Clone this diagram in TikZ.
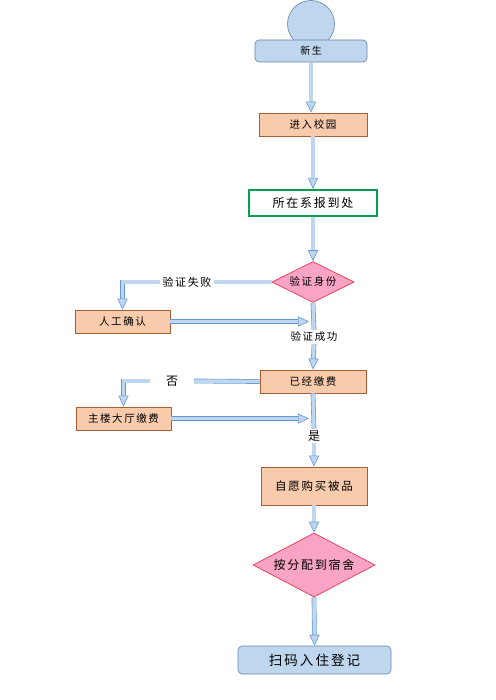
\documentclass[tikz,border=0pt]{standalone}
\usepackage{fontspec}
\newfontfamily\cjk[LetterSpace=15]{Noto Sans CJK SC}
\usetikzlibrary{shapes.geometric,arrows.meta,positioning}
\definecolor{boxblue}{RGB}{190, 215, 238}
\definecolor{boxblueline}{RGB}{100, 130, 170}
\definecolor{boxorange}{RGB}{248, 203, 173}
\definecolor{boxorangeline}{RGB}{170, 95, 55}
\definecolor{boxgreen}{RGB}{0, 160, 80}
\definecolor{diapink}{RGB}{249, 163, 197}
\definecolor{diared}{RGB}{240, 40, 60}
\definecolor{arrowfill}{RGB}{190, 215, 238}
\definecolor{arrowline}{RGB}{100, 150, 210}

\begin{document}
\begin{tikzpicture}[x=1pt, y=-1pt,
    every node/.style={font=\cjk\fontsize{10.5}{12}\selectfont, inner sep=2pt},
    bluebox/.style={draw=boxblueline, fill=boxblue, rounded corners=4pt, line width=0.6pt},
    orangebox/.style={draw=boxorangeline, fill=boxorange, line width=0.8pt},
    greenbox/.style={draw=boxgreen, fill=white, line width=2.2pt},
    pinkdia/.style={diamond, aspect=2, draw=diared, fill=diapink, line width=0.6pt, inner sep=0pt},
    blockline/.style={draw=arrowline, line width=0.6pt, double=arrowfill, double distance=3.5pt},
    blockarrow/.style={blockline, -{Triangle[fill=arrowfill, line width=0.6pt, length=11pt, width=10pt]}}
]
    \useasboundingbox (0,0) rectangle (495,700);
    % nodes
    \node[circle, draw=boxblueline, fill=boxblue, line width=0.6pt, minimum size=47pt] (start) at (311,24) {};
    \node[bluebox, minimum width=112pt, minimum height=22pt, font=\cjk\fontsize{10}{12}\selectfont] (xs) at (311,51) {新生};
    \node[orangebox, minimum width=108pt, minimum height=23pt] (jrxy) at (313,124.5) {进入校园};
    \node[greenbox, minimum width=128pt, minimum height=26pt, font=\cjk\fontsize{12}{14}\selectfont] (bdc) at (313,203) {所在系报到处};
    \node[pinkdia, minimum width=82pt, minimum height=41pt] (yzsf) at (313,282) {验证身份};
    \node[font=\cjk\fontsize{11}{13}\selectfont] (failtxt) at (187,282) {验证失败};
    \node[orangebox, minimum width=95pt, minimum height=23pt] (rgqr) at (122.5,321.5) {人工确认};
    \node (oktxt) at (314,337) {验证成功};
    \node[orangebox, minimum width=106pt, minimum height=23pt] (yjjf) at (313,381.5) {已经缴费};
    \node[font=\cjk\fontsize{12}{14}\selectfont] (notxt) at (172,381) {否};
    \node[orangebox, minimum width=95pt, minimum height=23pt] (zljf) at (123.5,418.5) {主楼大厅缴费};
    \node[font=\cjk\fontsize{12}{14}\selectfont] (yestxt) at (314,436) {是};
    \node[orangebox, minimum width=106pt, minimum height=38pt, font=\cjk\fontsize{11.5}{13}\selectfont] (zygm) at (314,486) {自愿购买被品};
    \node[pinkdia, minimum width=122pt, minimum height=64pt, font=\cjk\fontsize{12}{14}\selectfont] (fpss) at (314,565) {按分配到宿舍};
    \node[bluebox, minimum width=153pt, minimum height=28pt, font=\cjk\fontsize{13.5}{15}\selectfont] (smdj) at (314.5,660) {扫码入住登记};
    % main line
    \draw[blockarrow] (xs.south -| start) -- (jrxy.north -| start);
    \draw[blockarrow] (jrxy.south) -- (bdc.north);
    \draw[blockarrow] (bdc.south) -- (yzsf.north);
    \draw[blockline] (yzsf.south) -- (oktxt.north);
    \draw[blockarrow] (oktxt.south) -- (yjjf.north);
    \draw[blockline] (yjjf.south) -- (yestxt.north);
    \draw[blockarrow] (yestxt.south) -- (zygm.north);
    \draw[blockarrow] (zygm.south) -- (fpss.north);
    \draw[blockarrow] (fpss.south) -- (smdj.north);
    % side branches
    \draw[blockline] (yzsf.west) -- (failtxt.east);
    \draw[blockarrow] (failtxt.west) -| (rgqr.north);
    \draw[blockarrow] (rgqr.east) -- ([xshift=-4pt]rgqr.east -| yzsf.south);
    \draw[blockline] (yjjf.west) -- ([xshift=14pt]notxt.east);
    \draw[blockarrow] ([xshift=-14pt]notxt.west) -| (zljf.north);
    \draw[blockarrow] (zljf.east) -- ([xshift=-4pt]zljf.east -| yjjf.south);
\end{tikzpicture}
\end{document}
